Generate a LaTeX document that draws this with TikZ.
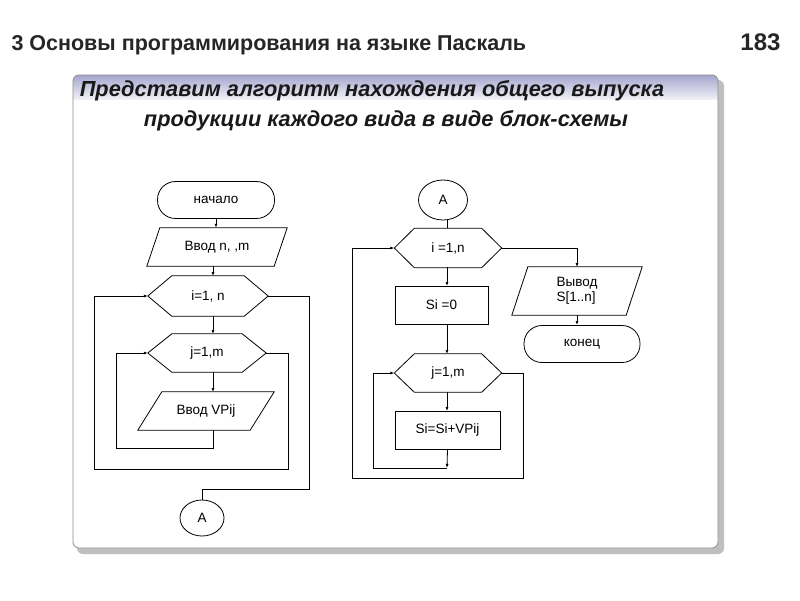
\documentclass[tikz,border=0pt]{standalone}
\usepackage{fontspec}
\setmainfont{Liberation Sans}
\usetikzlibrary{shapes.geometric,arrows.meta}
\begin{document}
\begin{tikzpicture}[x=1pt,y=-1pt,
  lbl/.style={font=\fontsize{13.5}{15}\selectfont, inner sep=0pt, align=center},
  sbox/.style={lbl, draw=none, minimum width=#1},
  ln/.style={line width=0.8pt, draw=black},
  ar/.style={ln, -{Latex[length=4pt,width=3pt]}}]
\useasboundingbox (0,0) rectangle (800,600);
\fill[white] (0,0) rectangle (800,600);
% header
\node[anchor=west, font=\bfseries\fontsize{21.5}{24}\selectfont, text=black!85] (hdr) at (8,45) {3 Основы программирования на языке Паскаль};
\node[anchor=east, font=\bfseries\fontsize{24}{26}\selectfont, text=black!85] (pg) at (784,42) {183};
% panel
\fill[black!25, rounded corners=6] (77,80) rectangle (724,554);
\fill[white, rounded corners=6] (73,75) rectangle (718,548);
\shade[top color=blue!45!black!35!white, bottom color=white, rounded corners=6] (73,75) rectangle (718,104);
\fill[white] (74,100) rectangle (717,104);
\draw[black!45, rounded corners=6, line width=0.8pt] (73,75) rectangle (718,548);
\node[font=\bfseries\itshape\fontsize{21.8}{24}\selectfont, text=black!90] (t1) at (372,91) {Представим алгоритм нахождения общего выпуска};
\node[font=\bfseries\itshape\fontsize{21.8}{24}\selectfont, text=black!90] (t2) at (386,121) {продукции каждого вида в виде блок-схемы};
% ---------- left ----------
\node[lbl, draw, rounded corners=18, minimum width=117, minimum height=37, line width=0.8pt] (start) at (216,200) {начало};
\node[sbox=140, minimum height=38] (in1) at (217,247) {Ввод n, ,m};
\draw[ln] ([xshift=13]in1.north west) -- (in1.north east) -- ([xshift=-13]in1.south east) -- (in1.south west) -- cycle;
\node[sbox=120, minimum height=40] (hi) at (208,296) {i=1, n};
\draw[ln] (hi.west) -- ([xshift=24]hi.north west) -- ([xshift=-24]hi.north east) -- (hi.east) -- ([xshift=-24]hi.south east) -- ([xshift=24]hi.south west) -- cycle;
\node[sbox=118, minimum height=38] (hj) at (207,353) {j=1,m};
\draw[ln] (hj.west) -- ([xshift=24]hj.north west) -- ([xshift=-24]hj.north east) -- (hj.east) -- ([xshift=-24]hj.south east) -- ([xshift=24]hj.south west) -- cycle;
\node[sbox=136, minimum height=38] (in2) at (206,411) {Ввод VPij};
\draw[ln] ([xshift=24]in2.north west) -- (in2.north east) -- ([xshift=-24]in2.south east) -- (in2.south west) -- cycle;
\node[lbl, draw, ellipse, minimum width=44, minimum height=36, line width=0.8pt] (ca) at (202,518) {A};
\draw[ar] (start.south) -- (start.south |- in1.north);
\draw[ar] (213,266) -- (213,276);
\draw[ar] (213,316) -- (213,334);
\draw[ar] (213,372) -- (213,392);
\coordinate (l1) at (213,430);
\draw[ln] (l1) -- (213,448) -- (116,448) -- (116,353);
\draw[ar] (116,353) -- (hj.west);
\draw[ln] (hj.east) -- (288,353) -- (288,469) -- (94,469) -- (94,296);
\draw[ar] (94,296) -- (hi.west);
\draw[ln] (hi.east) -- (309,296) -- (309,489) -- (202,489) -- (ca.north);
% ---------- right ----------
\node[lbl, draw, ellipse, minimum width=49, minimum height=40, line width=0.8pt] (cb) at (443,200) {A};
\node[sbox=107, minimum height=39] (ri) at (448,248) {i =1,n};
\draw[ln] (ri.west) -- ([xshift=20]ri.north west) -- ([xshift=-20]ri.north east) -- (ri.east) -- ([xshift=-20]ri.south east) -- ([xshift=20]ri.south west) -- cycle;
\node[lbl, draw, minimum width=93, minimum height=38, line width=0.8pt] (s0) at (441.5,305) {Si =0};
\node[sbox=107, minimum height=38] (rj) at (448,373) {j=1,m};
\draw[ln] (rj.west) -- ([xshift=20]rj.north west) -- ([xshift=-20]rj.north east) -- (rj.east) -- ([xshift=-20]rj.south east) -- ([xshift=20]rj.south west) -- cycle;
\node[lbl, draw, minimum width=105, minimum height=38, line width=0.8pt] (ss) at (447.5,430) {Si=Si+VPij};
\node[sbox=130, minimum height=48, align=left] (out) at (577,291) {Вывод\\S[1..n]};
\draw[ln] ([xshift=16]out.north west) -- (out.north east) -- ([xshift=-16]out.south east) -- (out.south west) -- cycle;
\node[lbl, draw, rounded corners=18, minimum width=116, minimum height=37, line width=0.8pt] (end) at (582,344) {конец};
\draw[ln] (447,220) -- (447,228);
\draw[ar] (447,267) -- (447,286);
\draw[ar] (447,324) -- (447,354);
\draw[ar] (447,392) -- (447,411);
\coordinate (r1) at (447,468);
\draw[ar] (ss.south) -- (r1);
\draw[ln] (r1) -- (373,468) -- (373,373);
\draw[ar] (373,373) -- (rj.west);
\draw[ln] (rj.east) -- (523,373) -- (523,478) -- (352,478) -- (352,248);
\draw[ar] (352,248) -- (ri.west);
\draw[ln] (ri.east) -- (577,248);
\draw[ar] (577,248) -- (577,267);
\draw[ar] (577,315) -- (577,325);
\end{tikzpicture}
\end{document}
